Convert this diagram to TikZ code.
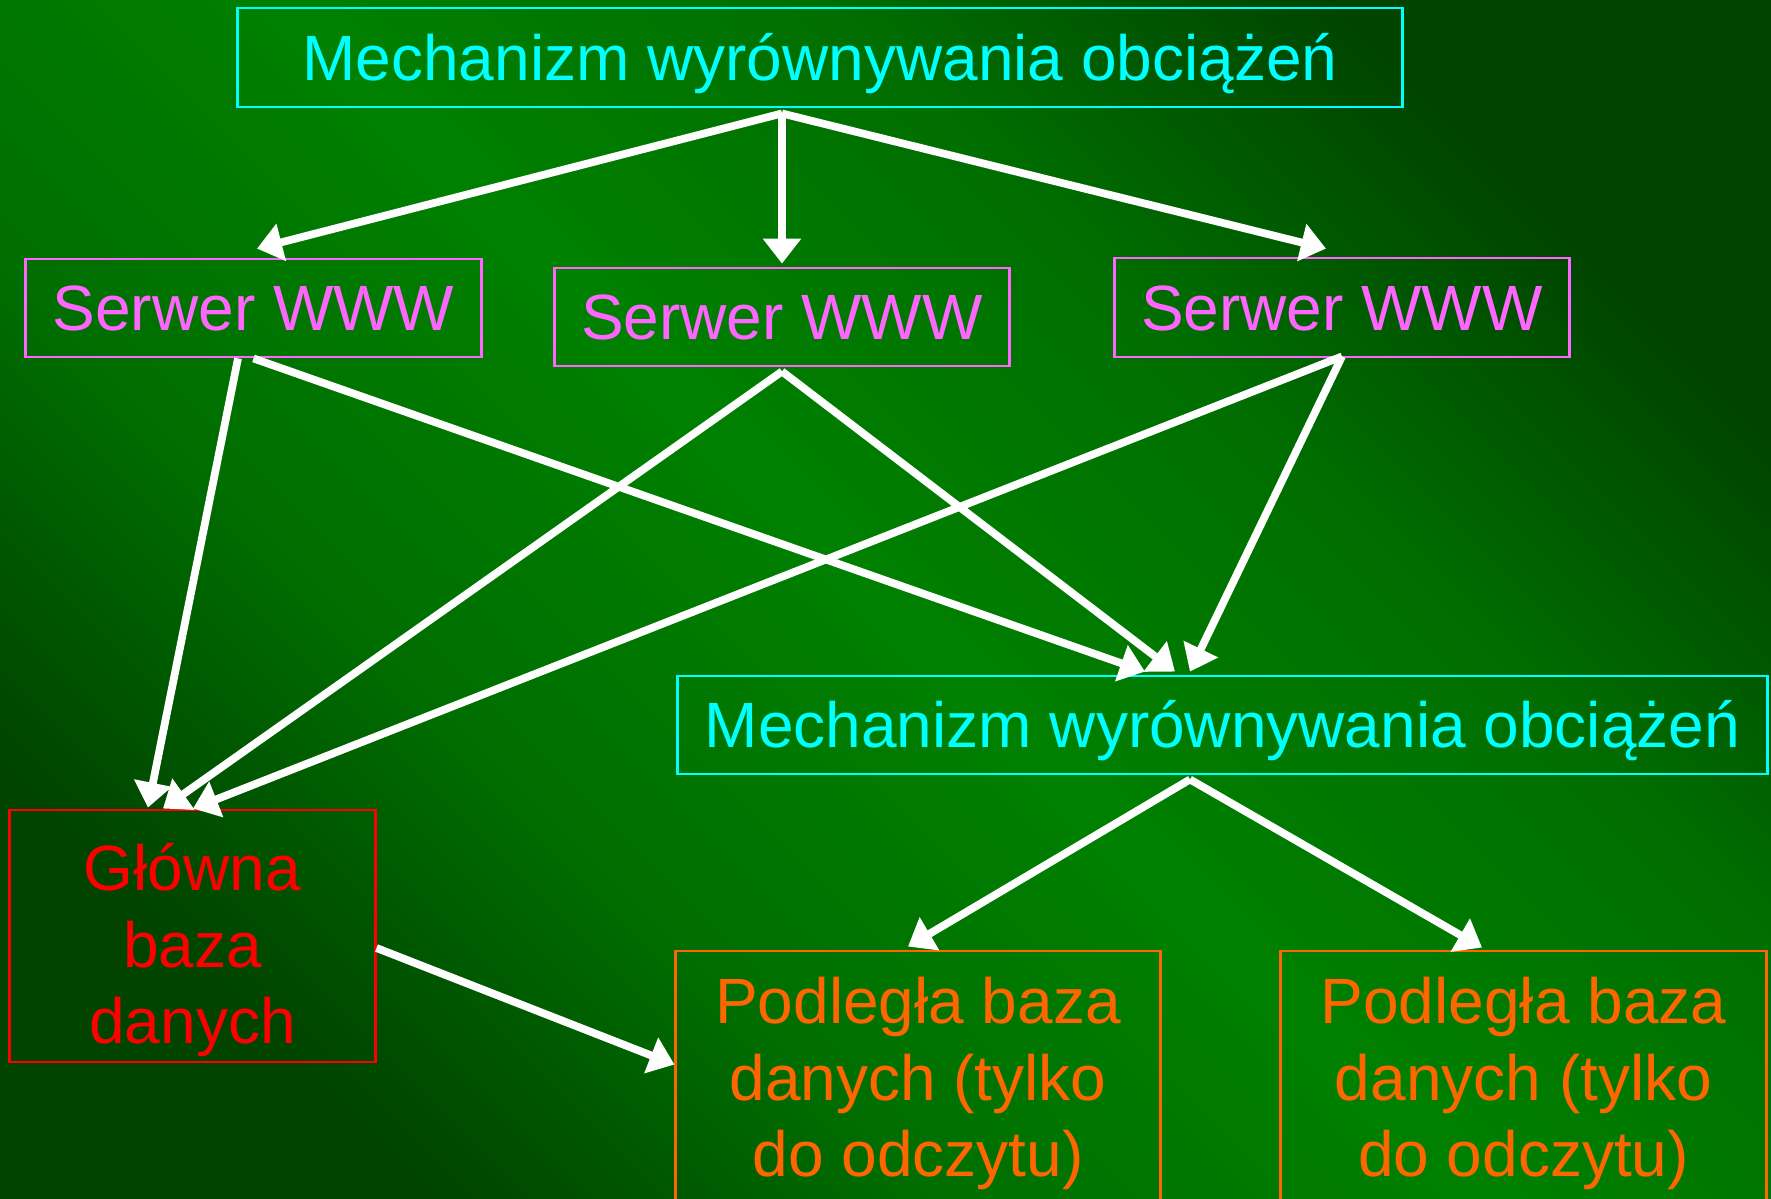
\documentclass[tikz,border=0pt]{standalone}
\usepackage{fontspec}
\setmainfont{Liberation Sans}
\usetikzlibrary{arrows.meta,calc}
\definecolor{bgdark}{RGB}{0,68,0}
\definecolor{bgsemi}{RGB}{0,110,0}
\definecolor{bgmid}{RGB}{0,128,0}
\definecolor{cyanc}{RGB}{0,255,255}
\definecolor{pinkc}{RGB}{255,102,255}
\definecolor{redc}{RGB}{255,0,0}
\definecolor{orangec}{RGB}{255,102,0}
\pgfdeclareverticalshading{bgshade}{100bp}{color(0bp)=(bgdark); color(25bp)=(bgdark); color(37bp)=(bgsemi); color(50bp)=(bgmid); color(63bp)=(bgsemi); color(75bp)=(bgdark); color(100bp)=(bgdark)}
\begin{document}
\begin{tikzpicture}[x=0.01cm,y=-0.01cm,
  box/.style={draw, line width=0.8pt, inner sep=0pt, font=\fontsize{18.2}{21.7}\selectfont},
  one/.style={box, text height=13pt, text depth=0pt},
  multi/.style={box, align=center},
  arr/.style={draw=white, line width=2.2pt, -{Triangle[length=0.25cm,width=0.37cm]}, fill=white}]
\useasboundingbox (0,0) rectangle (1771,1199);
\clip (0,0) rectangle (1771,1199);
\shade[shading=bgshade, shading angle=-45] (0,0) rectangle (1771,1199);

\node[one, draw=cyanc, text=cyanc, minimum width=11.64cm, minimum height=0.99cm] (top) at (820,57.5) {Mechanizm wyrównywania obciążeń};
\node[one, draw=pinkc, text=pinkc, minimum width=4.55cm, minimum height=0.98cm] (s1) at (253.5,308) {Serwer WWW};
\node[one, draw=pinkc, text=pinkc, minimum width=4.54cm, minimum height=0.98cm] (s2) at (782,317) {Serwer WWW};
\node[one, draw=pinkc, text=pinkc, minimum width=4.54cm, minimum height=0.99cm] (s3) at (1342,307.5) {Serwer WWW};
\node[one, draw=cyanc, text=cyanc, minimum width=10.89cm, minimum height=0.98cm] (mech) at (1222.5,725) {Mechanizm wyrównywania obciążeń};
\node[multi, draw=redc, text=redc, minimum width=3.65cm, minimum height=2.52cm] (glow) at (192.5,936) {\rule{0pt}{21.5pt}Główna\\baza\\danych};
\node[multi, draw=orangec, text=orangec, minimum width=4.84cm, minimum height=2.65cm] (p1) at (918,1083.5) {Podległa baza\\danych (tylko\\do odczytu)};
\node[multi, draw=orangec, text=orangec, minimum width=4.85cm, minimum height=2.65cm] (p2) at (1523.5,1083.5) {Podległa baza\\danych (tylko\\do odczytu)};

\coordinate (tsrc) at ($(top.south -| s2.north)+(0,5)$);
\draw[arr] (tsrc) -- ($(s1.north)+(3.5,-9)$);
\draw[arr] (tsrc) -- ($(s2.north)+(0,-3)$);
\draw[arr] (tsrc) -- ($(s3.north)+(-16,-8)$);

\draw[arr] ($(s1.south)+(-15.5,0)$) -- ($(glow.north)+(-44.5,-1)$);
\draw[arr] (s1.south) -- ($(mech.north)+(-77.5,-3)$);
\draw[arr] ($(s2.south)+(0,4)$) -- ($(glow.north)+(-29.5,0)$);
\draw[arr] ($(s2.south)+(0,4)$) -- ($(mech.north)+(-47.5,-3)$);
\draw[arr] ($(s3.south)+(0,-2)$) -- ($(glow.north)+(0.5,0)$);
\draw[arr] ($(s3.south)+(0,-2)$) -- ($(mech.north)+(-32.5,-3)$);

\coordinate (msrc) at ($(mech.south)+(-32.5,4)$);
\draw[arr] (msrc) -- ($(p1.north)+(-10,-3)$);
\draw[arr] (msrc) -- ($(p2.north)+(-41.5,-2)$);

\draw[arr] ($(glow.east)+(0,12)$) -- ($(p1.north west)+(0,115)$);
\end{tikzpicture}
\end{document}
